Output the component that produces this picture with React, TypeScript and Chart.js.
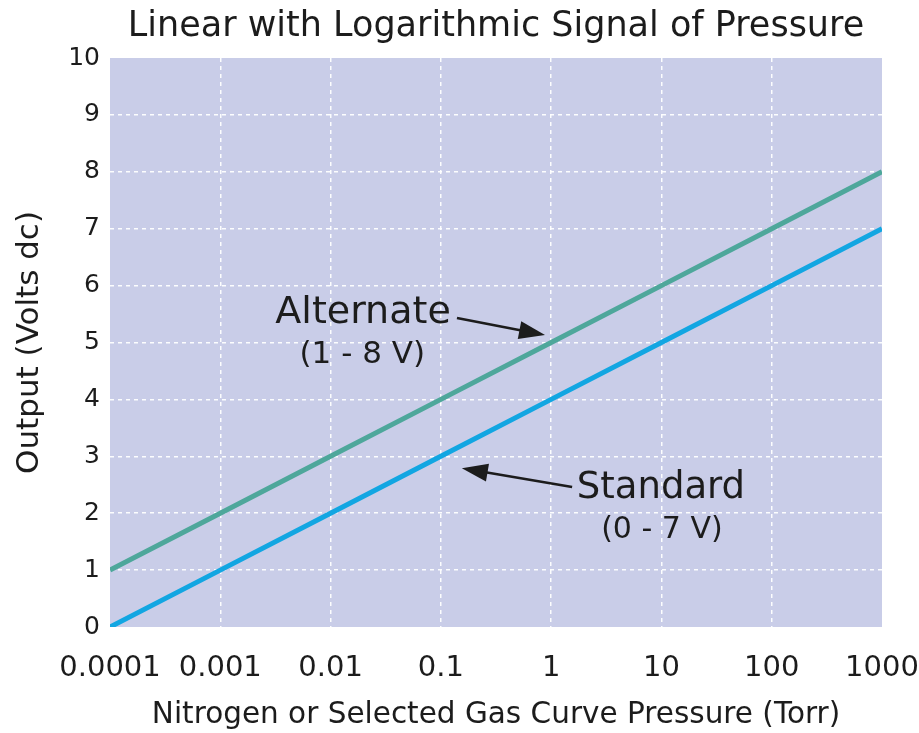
import React, { useEffect, useRef } from "react";
import { Chart, registerables } from "chart.js";

Chart.register(...registerables);

const pressures = [0.0001, 0.001, 0.01, 0.1, 1, 10, 100, 1000];
const alternate = [1, 2, 3, 4, 5, 6, 7, 8];
const standard = [0, 1, 2, 3, 4, 5, 6, 7];
const xTickValues = [0.0001, 0.001, 0.01, 0.1, 1, 10, 100, 1000];
const xTickLabels = ["0.0001", "0.001", "0.01", "0.1", "1", "10", "100", "1000"];
const yTickValues = [0, 1, 2, 3, 4, 5, 6, 7, 8, 9, 10];

const TITLE = "Linear with Logarithmic Signal of Pressure";
const X_TITLE = "Nitrogen or Selected Gas Curve Pressure (Torr)";
const Y_TITLE = "Output (Volts dc)";

// annotation labels (data coordinates)
const altLabel = { lines: ["Alternate", "(1 - 8 V)"], x: [0.0197, 0.0194], y: [5.52, 4.78], size: [38, 31] };
const stdLabel = { lines: ["Standard", "(0 - 7 V)"], x: [9.9, 10.1], y: [2.44, 1.7], size: [37, 30] };
const altArrow = { from: [0.14, 5.43], to: [0.88, 5.13] };
const stdArrow = { from: [1.55, 2.46], to: [0.155, 2.79] };

const FONT = "'DejaVu Sans', sans-serif";
const TEXT = "#1c1c1c";

const bgPlugin = {
  id: "bgPlugin",
  beforeDraw(chart: any) {
    const { ctx, chartArea } = chart;
    ctx.save();
    ctx.fillStyle = "#c9cde8";
    ctx.fillRect(chartArea.left, chartArea.top, chartArea.right - chartArea.left, chartArea.bottom - chartArea.top);
    ctx.restore();
  },
};

function drawArrow(ctx: any, x1: number, y1: number, x2: number, y2: number) {
  const ang = Math.atan2(y2 - y1, x2 - x1);
  const len = 26;
  const half = 9;
  const bx = x2 - len * Math.cos(ang);
  const by = y2 - len * Math.sin(ang);
  ctx.beginPath();
  ctx.moveTo(x1, y1);
  ctx.lineTo(bx + 2 * Math.cos(ang), by + 2 * Math.sin(ang));
  ctx.lineWidth = 2.5;
  ctx.strokeStyle = TEXT;
  ctx.stroke();
  ctx.beginPath();
  ctx.moveTo(x2, y2);
  ctx.lineTo(bx + half * Math.sin(ang), by - half * Math.cos(ang));
  ctx.lineTo(bx - half * Math.sin(ang), by + half * Math.cos(ang));
  ctx.closePath();
  ctx.fillStyle = TEXT;
  ctx.fill();
}

const annotationPlugin = {
  id: "annot",
  afterDatasetsDraw(chart: any) {
    const { ctx } = chart;
    const xs = chart.scales.x;
    const ys = chart.scales.y;
    ctx.save();
    ctx.fillStyle = TEXT;
    ctx.textAlign = "center";
    ctx.textBaseline = "middle";
    [altLabel, stdLabel].forEach((lab) => {
      lab.lines.forEach((t, i) => {
        ctx.font = `${lab.size[i]}px ${FONT}`;
        ctx.fillText(t, xs.getPixelForValue(lab.x[i]), ys.getPixelForValue(lab.y[i]));
      });
    });
    [altArrow, stdArrow].forEach((a) => {
      drawArrow(
        ctx,
        xs.getPixelForValue(a.from[0]),
        ys.getPixelForValue(a.from[1]),
        xs.getPixelForValue(a.to[0]),
        ys.getPixelForValue(a.to[1])
      );
    });
    ctx.restore();
  },
};

export default function App() {
  const ref = useRef<HTMLCanvasElement>(null);
  useEffect(() => {
    if (!ref.current) return;
    const gridColor = (c: any) => {
      const n = c.scale.ticks.length;
      return c.index === 0 || c.index === n - 1 ? "rgba(0,0,0,0)" : "rgba(255,255,255,0.95)";
    };
    const chart = new Chart(ref.current, {
      type: "scatter",
      data: {
        datasets: [
          {
            label: "Alternate",
            data: pressures.map((p, i) => ({ x: p, y: alternate[i] })),
            showLine: true,
            borderColor: "#4ea79b",
            borderWidth: 5,
            pointRadius: 0,
          },
          {
            label: "Standard",
            data: pressures.map((p, i) => ({ x: p, y: standard[i] })),
            showLine: true,
            borderColor: "#12a6e2",
            borderWidth: 5,
            pointRadius: 0,
          },
        ],
      },
      options: {
        responsive: false,
        animation: false,
        layout: { padding: { left: 0, right: 37, top: 0, bottom: 0 } },
        plugins: {
          legend: { display: false },
          tooltip: { enabled: false },
          title: {
            display: true,
            fullSize: false,
            text: TITLE,
            color: TEXT,
            font: { family: FONT, size: 35, weight: "normal" },
            padding: { top: 6, bottom: 10 },
          },
        },
        scales: {
          x: {
            type: "logarithmic",
            min: 0.0001,
            max: 1000,
            afterBuildTicks: (s: any) => {
              s.ticks = xTickValues.map((v) => ({ value: v }));
            },
            afterFit: (s: any) => {
              s.height = 106;
              s.paddingLeft = 0;
              s.paddingRight = 0;
            },
            ticks: {
              autoSkip: false,
              maxRotation: 0,
              color: TEXT,
              padding: 24,
              font: { family: FONT, size: 29 },
              callback: (_v: any, i: number) => xTickLabels[i],
            },
            grid: { color: gridColor, lineWidth: 1.5, drawTicks: false },
            border: { display: false, dash: [4, 4] },
            title: {
              display: true,
              text: X_TITLE,
              color: TEXT,
              font: { family: FONT, size: 29.5 },
              padding: { top: 0, bottom: 0 },
            },
          },
          y: {
            type: "linear",
            min: 0,
            max: 10,
            afterBuildTicks: (s: any) => {
              s.ticks = yTickValues.map((v) => ({ value: v }));
            },
            afterFit: (s: any) => {
              s.width = 110;
              s.paddingTop = 0;
              s.paddingBottom = 0;
            },
            ticks: {
              color: TEXT,
              padding: 10,
              font: { family: FONT, size: 25 },
              callback: (v: any) => String(v),
            },
            grid: { color: gridColor, lineWidth: 1.5, drawTicks: false },
            border: { display: false, dash: [4, 4] },
            title: {
              display: true,
              text: Y_TITLE,
              color: TEXT,
              font: { family: FONT, size: 31 },
              padding: { top: 11, bottom: 0 },
            },
          },
        },
      },
      plugins: [bgPlugin, annotationPlugin],
    } as any);
    return () => chart.destroy();
  }, []);
  return (
    <div style={{ position: "absolute", left: 0, top: 0, width: 919, height: 733, background: "#fff" }}>
      <canvas ref={ref} width={919} height={733} style={{ display: "block" }} />
    </div>
  );
}
